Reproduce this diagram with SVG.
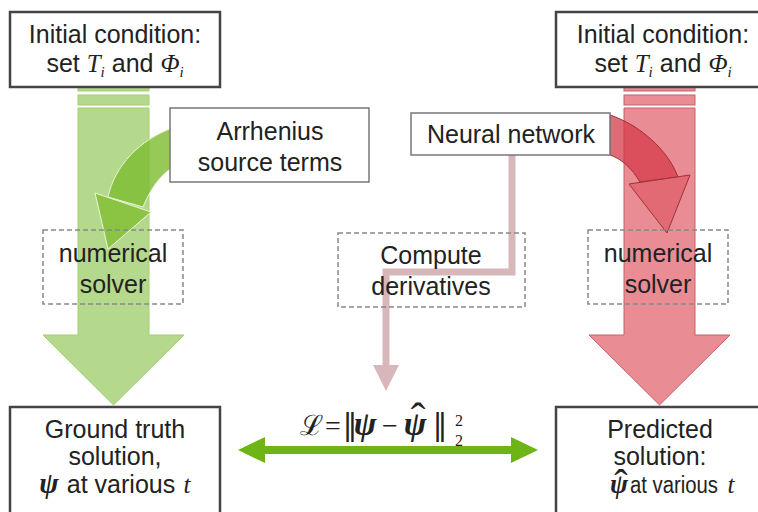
<svg xmlns="http://www.w3.org/2000/svg" width="758" height="512" viewBox="0 0 758 512">
<defs>
<style>
.t{font-family:"Liberation Sans",Arial,sans-serif;font-size:25px;fill:#222;text-anchor:middle}
.m{font-family:"Liberation Serif","DejaVu Serif",serif;font-style:italic}
.bm{font-family:"Liberation Serif","DejaVu Serif",serif;font-style:italic;font-weight:bold}
.f{font-family:"Liberation Serif","DejaVu Serif",serif;fill:#222}
.main{fill:#fff;stroke:#444;stroke-width:2.5}
.lbl{fill:#fff;stroke:#777;stroke-width:1.5}
.dash{fill:none;stroke:#888;stroke-width:1.5;stroke-dasharray:5 3}
.gshaft{fill:#b5d98c;stroke:#a3cf6e;stroke-width:1}
.rshaft{fill:#e98c94;stroke:#c8606a;stroke-width:1}
</style>
</defs>
<rect width="758" height="512" fill="#fff"/>

<g id="green-flow">
<rect class="gshaft" x="78" y="86" width="71" height="5"/>
<rect class="gshaft" x="78" y="95" width="71" height="10"/>
<path class="gshaft" d="M78,108 V335 H43 L113.5,405 L184,335 H149 V108 Z"/>
</g>
<g id="red-flow">
<rect class="rshaft" x="624" y="86" width="71" height="5"/>
<rect class="rshaft" x="624" y="95" width="71" height="10"/>
<path class="rshaft" d="M624,108 V335 H589 L659.5,405 L730,335 H695 V108 Z"/>
</g>

<g id="connectors">
<path d="M172,128 C140,140 115,165 108,197 L143,207 C150,190 160,175 172,168 Z" fill="#7dbb2f" fill-opacity="0.8" stroke="#eaf5dc" stroke-width="1"/>
<polygon points="95,193 151,212 108,249" fill="#84c036" fill-opacity="0.85" stroke="#eaf5dc" stroke-width="1"/>
<path d="M610,115 C640,125 668,150 678,177 L640,182 C632,168 620,158 610,155 Z" fill="#d63a4a" fill-opacity="0.75" stroke="#a0303a" stroke-width="1"/>
<polygon points="629,184 690,175 667,233" fill="#e0646f" fill-opacity="0.85" stroke="#a0303a" stroke-width="1"/>
<path d="M512,155 V272 H386 V366" fill="none" stroke="#d8b6ba" stroke-width="7"/>
<polygon points="373,365 399,365 386,391" fill="#d8b6ba"/>
<line x1="262" y1="450" x2="514" y2="450" stroke="#6eb414" stroke-width="8"/>
<polygon points="238,450 265,437 265,463" fill="#6eb414"/>
<polygon points="538,450 511,437 511,463" fill="#6eb414"/>
</g>

<g id="init-left">
<rect class="main" x="10" y="12" width="210" height="75"/>
<text class="t" x="115" y="43">Initial condition:</text>
<text class="t" x="115" y="72">set <tspan class="m">T</tspan><tspan class="m" font-size="15" dy="5">i</tspan><tspan dy="-5"> and </tspan><tspan class="m">Φ</tspan><tspan class="m" font-size="15" dy="5">i</tspan></text>
</g>
<g id="init-right">
<rect class="main" x="556" y="12" width="212" height="75"/>
<text class="t" x="663" y="43">Initial condition:</text>
<text class="t" x="663" y="72">set <tspan class="m">T</tspan><tspan class="m" font-size="15" dy="5">i</tspan><tspan dy="-5"> and </tspan><tspan class="m">Φ</tspan><tspan class="m" font-size="15" dy="5">i</tspan></text>
</g>
<g id="arrhenius">
<rect class="lbl" x="170" y="108" width="199" height="74"/>
<text class="t" x="270" y="140">Arrhenius</text>
<text class="t" x="270" y="171">source terms</text>
</g>
<g id="neural-network">
<rect class="lbl" x="411" y="113" width="199" height="42"/>
<text class="t" x="511" y="143">Neural network</text>
</g>
<g id="solver-left">
<rect class="dash" x="43" y="230" width="140" height="74"/>
<text class="t" x="113" y="262">numerical</text>
<text class="t" x="113" y="293">solver</text>
</g>
<g id="solver-right">
<rect class="dash" x="588" y="230" width="140" height="74"/>
<text class="t" x="658" y="262">numerical</text>
<text class="t" x="658" y="293">solver</text>
</g>
<g id="compute">
<rect class="dash" x="338" y="233" width="187" height="74"/>
<text class="t" x="431" y="264">Compute</text>
<text class="t" x="431" y="295">derivatives</text>
</g>
<g id="loss">
<text class="f" y="435" font-size="28" text-anchor="middle"><tspan x="311">ℒ</tspan><tspan x="333">=</tspan><tspan x="350" font-family="'DejaVu Serif',serif" font-size="30">‖</tspan><tspan x="365" class="bm" font-size="34">ψ</tspan><tspan x="390">−</tspan><tspan x="415" class="bm" font-size="34">ψ</tspan><tspan x="418" y="433" font-size="44">ˆ</tspan><tspan x="440" y="435" font-family="'DejaVu Serif',serif" font-size="30">‖</tspan><tspan x="459" y="426" font-size="16">2</tspan><tspan x="459" y="446" font-size="16">2</tspan></text>
</g>
<g id="ground-truth">
<rect class="main" x="10" y="407" width="210" height="110"/>
<text class="t" x="115" y="438">Ground truth</text>
<text class="t" x="115" y="465">solution,</text>
<text class="t" y="493"><tspan x="49" class="bm" font-size="29">ψ</tspan><tspan x="121">at various</tspan><tspan x="187" class="m">t</tspan></text>
</g>
<g id="predicted">
<rect class="main" x="556" y="407" width="212" height="110"/>
<text class="t" x="660" y="438">Predicted</text>
<text class="t" x="660" y="465">solution:</text>
<text class="t" y="493"><tspan x="619" class="bm" font-size="27">ψ</tspan><tspan x="621" y="497" font-size="40" class="f">ˆ</tspan><tspan x="674" y="493" font-size="23" textLength="88" lengthAdjust="spacingAndGlyphs">at various</tspan><tspan x="731" class="m">t</tspan></text>
</g>
</svg>
